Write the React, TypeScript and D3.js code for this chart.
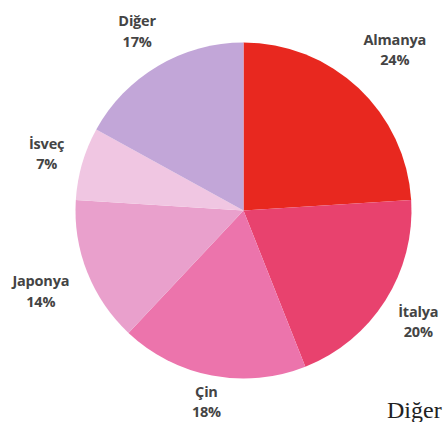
import React from "react";
import * as d3 from "d3";

const countries = ["Almanya", "İtalya", "Çin", "Japonya", "İsveç", "Diğer"];
const shares = [24, 20, 18, 14, 7, 17];
const colors = ["#e8281f", "#e8426e", "#ec74ac", "#e9a0cc", "#f0c6e2", "#c2a6d8"];

// distance of each label from the pie centre, px
const labelRadius = [221, 207, 198, 218, 205, 209];

const W = 443;
const H = 422;

export default function App() {
  const cx = 243.5;
  const cy = 210.5;
  const r = 168;

  const data = countries.map((name, i) => ({ name, value: shares[i], color: colors[i] }));

  const pie = d3.pie<any>().value(d => d.value).sort(null);
  const arcs = pie(data);
  const arc = d3.arc<any>().innerRadius(0).outerRadius(r);

  return (
    <svg
      width={W}
      height={H}
      style={{ position: "absolute", left: 0, top: 0, background: "#fff" }}
    >
      <g transform={`translate(${cx},${cy})`}>
        {arcs.map((a, i) => (
          <path key={i} d={arc(a) as string} fill={a.data.color} />
        ))}
        {arcs.map((a, i) => {
          const lr = labelRadius[i];
          const [x, y0] = d3.arc<any>().innerRadius(lr).outerRadius(lr).centroid(a);
          // keep the bottom label inside the picture
          const y = Math.min(y0, H - cy - 21);
          return (
            <text
              key={"l" + i}
              x={x}
              y={y}
              textAnchor="middle"
              fontFamily="'Open Sans', sans-serif"
              fontWeight={700}
              fontSize={14.5}
              fill="#444"
              letterSpacing="-0.2"
            >
              <tspan x={x} dy="-0.3em">{a.data.name}</tspan>
              <tspan x={x} dy="1.4em">{a.data.value}%</tspan>
            </text>
          );
        })}
      </g>
      <text
        x={387}
        y={418}
        fontFamily="'Liberation Serif', 'Times New Roman', serif"
        fontSize={24}
        fill="#222"
      >
        Diğer
      </text>
    </svg>
  );
}
